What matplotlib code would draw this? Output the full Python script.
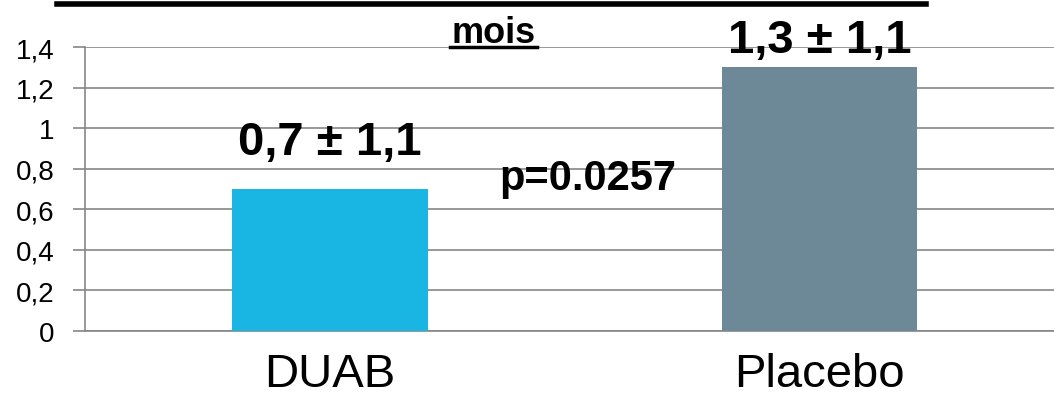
import matplotlib.pyplot as plt
from matplotlib.lines import Line2D

categories = ['DUAB', 'Placebo']
values = [0.7, 1.3]
bar_labels = ['0,7 ± 1,1', '1,3 ± 1,1']
label_y = [0.873, 1.375]
colors = ['#1ab6e3', '#6d8896']
yticks = [0, 0.2, 0.4, 0.6, 0.8, 1.0, 1.2, 1.4]
ytick_labels = ['0', '0,2', '0,4', '0,6', '0,8', '1', '1,2', '1,4']
p_text = 'p=0.0257'

plt.rcParams['font.family'] = ['Liberation Sans', 'DejaVu Sans']

fig = plt.figure(figsize=(10.54, 4.06), dpi=100)
ax = fig.add_axes([85.25 / 1054, 1 - 332 / 406, 979 / 1054, 284 / 406])

x = list(range(len(categories)))
ax.bar(x, values, width=0.4, color=colors, zorder=3)
ax.set_xlim(-0.5, 1.5)
ax.set_ylim(0, 1.4)
ax.set_yticks(yticks)
ax.set_yticklabels(ytick_labels, fontsize=20)
ax.set_xticks(x)
ax.set_xticklabels(categories, fontsize=34)
ax.tick_params(axis='x', length=0, pad=15)
ax.tick_params(axis='y', length=9, width=1.2, color='#868686', pad=13)
ax.yaxis.grid(True, color='#868686', linewidth=1.2, zorder=0)
for s in ['top', 'right']:
    ax.spines[s].set_visible(False)
for s in ['left', 'bottom']:
    ax.spines[s].set_color('#868686')
    ax.spines[s].set_linewidth(1.2)

# value labels above bars
for xi, yi, lab in zip(x, label_y, bar_labels):
    ax.text(xi, yi, lab, ha='center', va='baseline', fontsize=34,
            fontweight='bold', clip_on=False)
ax.text(0.527, 0.70, p_text, ha='center', va='baseline', fontsize=30,
        fontweight='bold')

# cut-off title remnants
fig.text(494 / 1054, 1 - 43 / 406, 'mois', ha='center', va='baseline',
         fontsize=26, fontweight='bold')
fig.add_artist(Line2D([450 / 1054, 537 / 1054], [1 - 47.5 / 406] * 2,
                      color='black', linewidth=2.5))
fig.add_artist(Line2D([57 / 1054, 926 / 1054], [1 - 5 / 406] * 2,
                      color='black', linewidth=4))

fig.savefig('out.png', dpi=100)
